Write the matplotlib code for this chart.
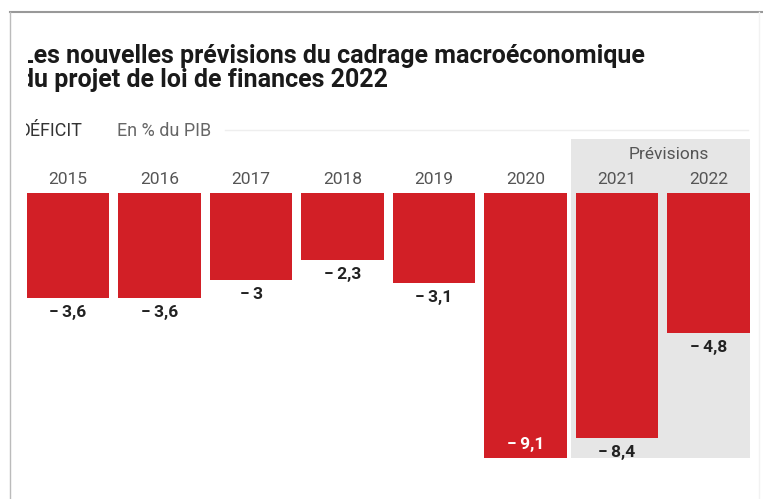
import matplotlib.pyplot as plt
import matplotlib.patches as mpatches
from matplotlib.transforms import Bbox

years = ["2015", "2016", "2017", "2018", "2019", "2020", "2021", "2022"]
deficit = [-3.6, -3.6, -3.0, -2.3, -3.1, -9.1, -8.4, -4.8]
labels = ["−\u20093,6", "−\u20093,6", "−\u20093", "−\u20092,3", "−\u20093,1",
          "−\u20099,1", "−\u20098,4", "−\u20094,8"]
forecast_start = 6  # index of first forecast year

W, H = 763, 499
red = "#d21f26"
grey_bg = "#e6e6e6"

plt.rcParams['font.family'] = ['Roboto', 'DejaVu Sans']

fig = plt.figure(figsize=(W / 100, H / 100), dpi=100)
ax = fig.add_axes([0, 0, 1, 1])

# pixel mapping: bar i centred at 68 + 91.5*i, zero line at y=193, 29.12 px per point
px0, pstep = 68, 91.5
y0, yscale = 193, 29.12
ax.set_xlim(-px0 / pstep, (W - px0) / pstep)
ax.set_ylim(-(H - y0) / yscale, y0 / yscale)
ax.axis("off")

def fy(py):
    return 1 - py / H

def fx(px):
    return px / W

# forecast background
x_left = forecast_start - 0.5
x_right = len(years) - 0.5 - 0.05
ax.add_patch(mpatches.Rectangle((x_left, min(deficit)), x_right - x_left,
                                1.85 - min(deficit), color=grey_bg, lw=0, zorder=0))

xs = list(range(len(years)))
ax.bar(xs, deficit, width=0.9, color=red, zorder=2)

for i, (v, lab) in enumerate(zip(deficit, labels)):
    if v == min(deficit):
        ax.text(i, v + 0.45, lab, ha="center", va="center", color="white",
                fontsize=12.5, fontweight="bold", zorder=3)
    else:
        ax.text(i, v - 0.5, lab, ha="center", va="center", color="#222222",
                fontsize=12.5, fontweight="bold", zorder=3)
    ax.text(i, 0.48, years[i], ha="center", va="center", color="#555555",
            fontsize=12.5, zorder=3)

ax.text((forecast_start + len(years) - 1) / 2 + 0.07, 1.33, "Prévisions", ha="center",
        va="center", color="#555555", fontsize=12.5, zorder=3)

# clip region imitating the cropped screenshot
clip = Bbox.from_extents(28, 0, W, H)
clip2 = Bbox.from_extents(26, 0, W, H)

t1 = fig.text(fx(20), fy(56), "Les nouvelles prévisions du cadrage macroéconomique",
              ha="left", va="center", fontsize=18, fontweight="bold", color="#1a1a1a")
t2 = fig.text(fx(20), fy(80), "du projet de loi de finances 2022",
              ha="left", va="center", fontsize=18, fontweight="bold", color="#1a1a1a")
t3 = fig.text(fx(18), fy(131), "DÉFICIT", ha="left", va="center", fontsize=13,
              color="#333333")
for t, c in ((t1, clip), (t2, clip), (t3, clip2)):
    t.set_clip_box(c)
    t.set_clip_on(True)

fig.text(fx(117), fy(131), "En % du PIB", ha="left", va="center", fontsize=13,
         color="#666666")

# header rule and frame
fig.add_artist(plt.Line2D([fx(225), fx(748)], [fy(130), fy(130)], color="#eeeeee", lw=1))
fig.add_artist(plt.Line2D([fx(10), fx(763)], [fy(12), fy(12)], color="#999999", lw=1.5))
fig.add_artist(plt.Line2D([fx(10), fx(10)], [fy(12), fy(499)], color="#bbbbbb", lw=1))
fig.add_artist(plt.Line2D([fx(759), fx(759)], [fy(12), fy(499)], color="#f2f2f2", lw=1))

fig.savefig("out.png", dpi=100)
